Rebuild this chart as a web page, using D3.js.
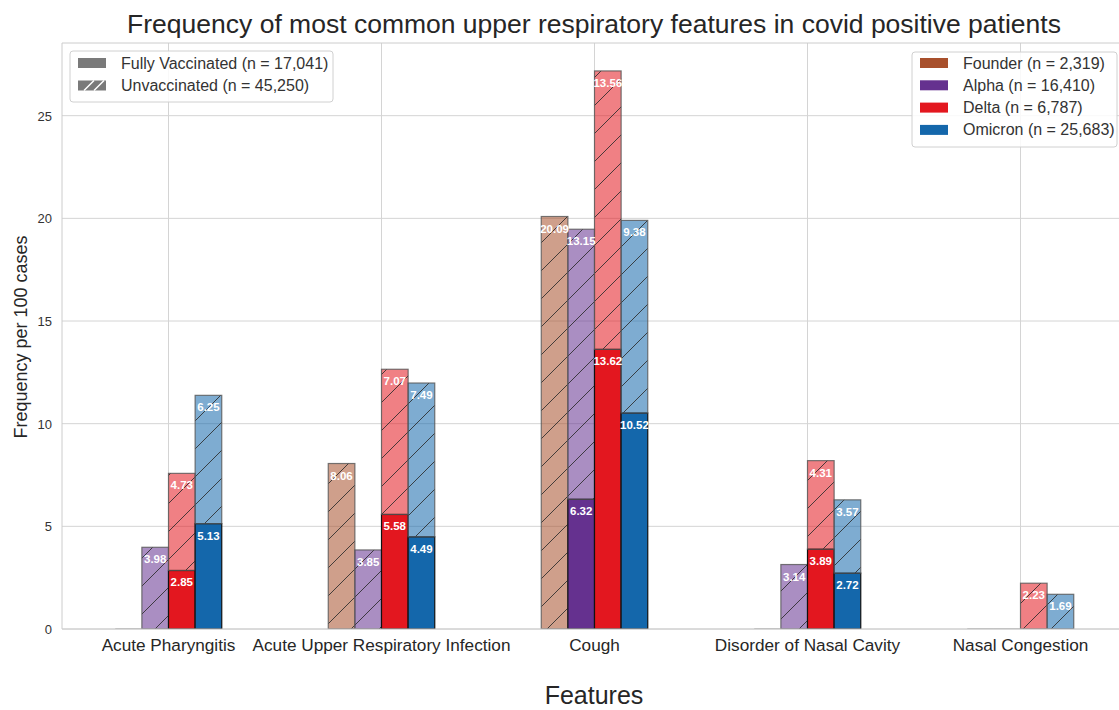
<!DOCTYPE html>
<html>
<head>
<meta charset="utf-8">
<script src="https://cdn.jsdelivr.net/npm/d3@7"></script>
<style>
  body { margin: 0; background: #fff; }
  text { font-family: "Liberation Sans", Arial, sans-serif; }
</style>
</head>
<body>
<svg id="chart" width="1119" height="710"></svg>
<script>
// chart data
var features = ["Acute Pharyngitis", "Acute Upper Respiratory Infection", "Cough", "Disorder of Nasal Cavity", "Nasal Congestion"];
var variants = ["Founder", "Alpha", "Delta", "Omicron"];
var variantLabels = ["Founder (n = 2,319)", "Alpha (n = 16,410)", "Delta (n = 6,787)", "Omicron (n = 25,683)"];
var variantColors = ["#a8502c", "#65318f", "#e3171f", "#1467ab"];
// per variant, per feature (frequency per 100 cases)
var vaccinated = {
  Founder: [0, 0, 0, 0, 0],
  Alpha:   [0, 0, 6.32, 0, 0],
  Delta:   [2.85, 5.58, 13.62, 3.89, 0],
  Omicron: [5.13, 4.49, 10.52, 2.72, 0]
};
var unvaccinated = {
  Founder: [0, 8.06, 20.09, 0, 0],
  Alpha:   [3.98, 3.85, 13.15, 3.14, 0],
  Delta:   [4.73, 7.07, 13.56, 4.31, 2.23],
  Omicron: [6.25, 7.49, 9.38, 3.57, 1.69]
};
var statusLabels = ["Fully Vaccinated (n = 17,041)", "Unvaccinated (n = 45,250)"];
var yTicks = [0, 5, 10, 15, 20, 25];

var svg = d3.select("#chart");
var barW = 0.125;

var x = d3.scaleLinear().domain([-0.5, 4.5]).range([62, 1127]);
var y = d3.scaleLinear().domain([0, 28.54]).range([629, 43]);

// hatch pattern
var defs = svg.append("defs");
var pat = defs.append("pattern")
  .attr("id", "hatch")
  .attr("patternUnits", "userSpaceOnUse")
  .attr("width", 28).attr("height", 28);
pat.append("path")
  .attr("d", "M0,28 L28,0 M-7,7 L7,-7 M21,35 L35,21")
  .attr("stroke", "#2a2a2a")
  .attr("stroke-width", 1)
  .attr("stroke-opacity", 0.85);

defs.append("clipPath").attr("id", "plotclip")
  .append("rect").attr("x", 62).attr("y", 43).attr("width", 1070).attr("height", 586);

// grid
var grid = svg.append("g");
grid.selectAll(".hg").data(yTicks).enter().append("line")
  .attr("x1", 62).attr("x2", 1119)
  .attr("y1", d => y(d)).attr("y2", d => y(d))
  .attr("stroke", "#d4d4d4").attr("stroke-width", 1);
grid.selectAll(".vg").data(features).enter().append("line")
  .attr("x1", (d, i) => x(i)).attr("x2", (d, i) => x(i))
  .attr("y1", 43).attr("y2", 629)
  .attr("stroke", "#d4d4d4").attr("stroke-width", 1);

// spines
svg.append("line").attr("x1", 62).attr("x2", 62).attr("y1", 43).attr("y2", 629).attr("stroke", "#cccccc");
svg.append("line").attr("x1", 62).attr("x2", 1119).attr("y1", 43).attr("y2", 43).attr("stroke", "#cccccc");

var bars = svg.append("g").attr("clip-path", "url(#plotclip)");
var labels = svg.append("g");

variants.forEach(function(v, vi) {
  var off = (vi - 1.5) * barW;
  features.forEach(function(f, fi) {
    var x0 = x(fi + off - barW / 2), x1 = x(fi + off + barW / 2);
    var vac = vaccinated[v][fi], un = unvaccinated[v][fi];
    var col = variantColors[vi];
    // baseline edge (shows for zero-height bars)
    bars.append("line")
      .attr("x1", x0).attr("x2", x1).attr("y1", y(0)).attr("y2", y(0))
      .attr("stroke", "#999").attr("stroke-width", 1.2);
    if (vac > 0) {
      bars.append("rect")
        .attr("x", x0).attr("width", x1 - x0)
        .attr("y", y(vac)).attr("height", y(0) - y(vac))
        .attr("fill", col)
        .attr("stroke", "#111").attr("stroke-width", 1.2);
      labels.append("text")
        .attr("x", (x0 + x1) / 2).attr("y", y(vac) + 16)
        .attr("text-anchor", "middle")
        .attr("font-size", 11.5).attr("font-weight", "bold")
        .attr("fill", "#fff")
        .text(vac.toFixed(2));
    }
    if (un > 0) {
      var top = vac + un;
      bars.append("rect")
        .attr("x", x0).attr("width", x1 - x0)
        .attr("y", y(top)).attr("height", y(vac) - y(top))
        .attr("fill", col).attr("fill-opacity", 0.55);
      bars.append("rect")
        .attr("x", x0).attr("width", x1 - x0)
        .attr("y", y(top)).attr("height", y(vac) - y(top))
        .attr("fill", "url(#hatch)")
        .attr("stroke", "#555").attr("stroke-opacity", 0.8).attr("stroke-width", 1.2);
      labels.append("text")
        .attr("x", (x0 + x1) / 2).attr("y", y(top) + 16)
        .attr("text-anchor", "middle")
        .attr("font-size", 11.5).attr("font-weight", "bold")
        .attr("fill", "#fff")
        .text(un.toFixed(2));
    }
  });
});

// bottom spine over bars
svg.append("line").attr("x1", 62).attr("x2", 1119).attr("y1", 629).attr("y2", 629).attr("stroke", "#cccccc");

// axes labels
svg.selectAll(".yt").data(yTicks).enter().append("text")
  .attr("x", 52).attr("y", d => y(d) + 5)
  .attr("text-anchor", "end").attr("font-size", 13).attr("fill", "#333")
  .text(d => d);
svg.selectAll(".xt").data(features).enter().append("text")
  .attr("x", (d, i) => x(i)).attr("y", 651)
  .attr("text-anchor", "middle").attr("font-size", 17.2).attr("fill", "#262626")
  .text(d => d);

svg.append("text")
  .attr("x", 594).attr("y", 33)
  .attr("text-anchor", "middle").attr("font-size", 26.5).attr("fill", "#262626")
  .text("Frequency of most common upper respiratory features in covid positive patients");
svg.append("text")
  .attr("x", 594).attr("y", 704)
  .attr("text-anchor", "middle").attr("font-size", 25).attr("fill", "#262626")
  .text("Features");
svg.append("text")
  .attr("transform", "translate(27,337) rotate(-90)")
  .attr("text-anchor", "middle").attr("font-size", 18).attr("fill", "#262626")
  .text("Frequency per 100 cases");

// legend: vaccination status
var lg1 = svg.append("g");
lg1.append("rect").attr("x", 70).attr("y", 51).attr("width", 263).attr("height", 51)
  .attr("rx", 3).attr("fill", "#fff").attr("fill-opacity", 0.85).attr("stroke", "#d0d0d0");
statusLabels.forEach(function(s, i) {
  var yy = 63 + i * 22.5;
  lg1.append("rect").attr("x", 78).attr("y", yy - 5).attr("width", 28).attr("height", 10)
    .attr("fill", "#7a7a7a");
  if (i === 1) {
    lg1.append("path").attr("d", "M84," + (yy + 5) + " L94," + (yy - 5) + " M94," + (yy + 5) + " L104," + (yy - 5))
      .attr("stroke", "#fff").attr("stroke-width", 1.5);
  }
  lg1.append("text").attr("x", 121).attr("y", yy + 5.5)
    .attr("font-size", 16).attr("fill", "#333").text(s);
});

// legend: variants
var lg2 = svg.append("g");
lg2.append("rect").attr("x", 912).attr("y", 52).attr("width", 205).attr("height", 95)
  .attr("rx", 3).attr("fill", "#fff").attr("fill-opacity", 0.85).attr("stroke", "#d0d0d0");
variantLabels.forEach(function(s, i) {
  var yy = 63 + i * 22.3;
  lg2.append("rect").attr("x", 920).attr("y", yy - 5).attr("width", 28).attr("height", 10)
    .attr("fill", variantColors[i]);
  lg2.append("text").attr("x", 963).attr("y", yy + 5.5)
    .attr("font-size", 16).attr("fill", "#333").text(s);
});
</script>
</body>
</html>
